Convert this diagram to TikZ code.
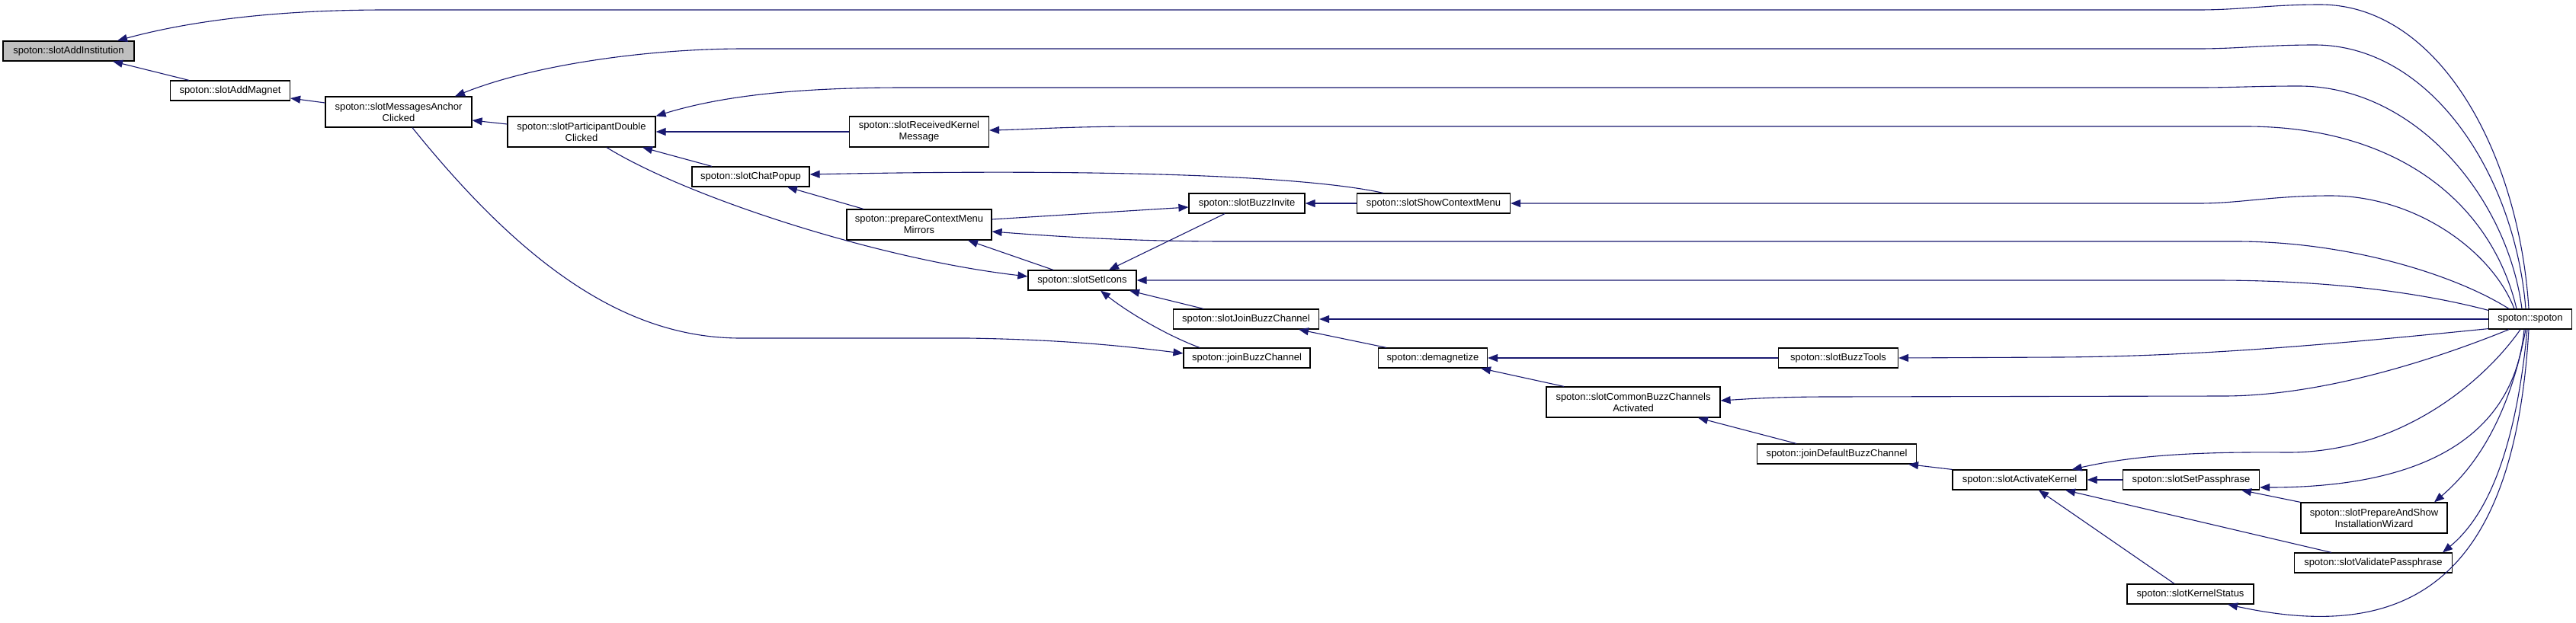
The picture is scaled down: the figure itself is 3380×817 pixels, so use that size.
\documentclass[tikz,border=0pt]{standalone}
\usepackage{fontspec}
\setmainfont{Liberation Sans}
\usetikzlibrary{arrows.meta, calc}
\definecolor{edgeblue}{HTML}{191970}
\definecolor{rootgray}{HTML}{BFBFBF}

\begin{document}
\begin{tikzpicture}[
    x=1pt, y=-1pt,
    >={Triangle[length=13pt, width=10pt]},
    line width=1.2pt,
    fn/.style={draw=black, fill=white, rectangle, minimum height=26pt, inner xsep=3pt, inner ysep=4pt, align=center, font=\fontsize{13}{15}\selectfont},
    fntwo/.style={fn, minimum height=40pt},
    fnroot/.style={fn, fill=rootgray},
    call/.style={->, draw=edgeblue, line width=1.1pt}
  ]
  \useasboundingbox[fill=white] (0,0) rectangle (3380,817);

  % --- functions, left to right ---
  \node[fnroot, minimum width=172pt] (inst) at (90,67) {spoton::slotAddInstitution};
  \node[fn, minimum width=157pt] (magnet) at (302,119) {spoton::slotAddMagnet};
  \node[fntwo, minimum width=192pt] (anchor) at (523,147) {spoton::slotMessagesAnchor\\Clicked};
  \node[fntwo, minimum width=194pt] (dbl) at (763,173) {spoton::slotParticipantDouble\\Clicked};
  \node[fntwo, minimum width=183pt] (recv) at (1206,173) {spoton::slotReceivedKernel\\Message};
  \node[fn, minimum width=154pt] (chat) at (985,232) {spoton::slotChatPopup};
  \node[fntwo, minimum width=190pt] (mirrors) at (1206,295) {spoton::prepareContextMenu\\Mirrors};
  \node[fn, minimum width=152pt] (invite) at (1636,267) {spoton::slotBuzzInvite};
  \node[fn, minimum width=201pt] (showctx) at (1881,267) {spoton::slotShowContextMenu};
  \node[fn, minimum width=142pt] (seticons) at (1420,368) {spoton::slotSetIcons};
  \node[fn, minimum width=191pt] (joinslot) at (1635,419) {spoton::slotJoinBuzzChannel};
  \node[fn, minimum width=166pt] (joinbuzz) at (1636,470) {spoton::joinBuzzChannel};
  \node[fn, minimum width=143pt] (demag) at (1880,470) {spoton::demagnetize};
  \node[fn, minimum width=157pt] (buzztools) at (2412,470) {spoton::slotBuzzTools};
  \node[fntwo, minimum width=228pt] (common) at (2143,528) {spoton::slotCommonBuzzChannels\\Activated};
  \node[fn, minimum width=209pt] (joindefault) at (2410,596) {spoton::joinDefaultBuzzChannel};
  \node[fn, minimum width=176pt] (activate) at (2650,630) {spoton::slotActivateKernel};
  \node[fn, minimum width=179pt] (setpass) at (2875,630) {spoton::slotSetPassphrase};
  \node[fntwo, minimum width=192pt] (wizard) at (3115,680) {spoton::slotPrepareAndShow\\InstallationWizard};
  \node[fn, minimum width=207pt] (validate) at (3114,739) {spoton::slotValidatePassphrase};
  \node[fn, minimum width=166pt] (kstatus) at (2874,780) {spoton::slotKernelStatus};
  \node[fn, minimum width=109pt] (spoton) at (3320,419) {spoton::spoton};

  % --- calls from spoton::spoton ---
  \draw[call] ($(spoton.north)+(-2,0)$) .. controls (3305,200) and (3200,6) .. (3044,6)
    .. controls (2980,6) and (2940,13) .. (2885,13) -- (506,13)
    .. controls (350,13) and (240,30) .. ($(inst.north)+(64,0)$);
  \draw[call] ($(spoton.north)+(-6,0)$) .. controls (3300,230) and (3190,59) .. (3037,59)
    .. controls (2975,59) and (2935,64) .. (2885,64) -- (976,64)
    .. controls (850,64) and (700,85) .. ($(anchor.north)+(74,0)$);
  \draw[call] ($(spoton.north)+(-11,0)$) .. controls (3290,260) and (3170,113) .. (3016,113)
    .. controls (2960,113) and (2930,115) .. (2885,115) -- (1187,115)
    .. controls (1050,115) and (950,125) .. (dbl.north east);
  \draw[call] ($(spoton.north)+(-18,0)$) .. controls (3270,270) and (3150,166) .. (2947,166)
    -- (1500,166) .. controls (1400,166) and (1350,170) .. ($(recv.east)+(0,-2)$);
  \draw[call] ($(spoton.north)+(-21,0)$) .. controls (3270,330) and (3170,257) .. (3058,257)
    .. controls (2980,257) and (2940,267) .. (2885,267) -- (showctx.east);
  \draw[call] ($(spoton.north)+(-28,0)$) .. controls (3220,360) and (3080,317) .. (2934,317)
    -- (1611,317) .. controls (1480,317) and (1380,310) .. ($(mirrors.east)+(0,9)$);
  \draw[call] ($(spoton.north west)+(0,2)$) .. controls (3180,385) and (3060,368) .. (2906,368)
    -- (seticons.east);
  \draw[call] (spoton.west) -- (joinslot.east);
  \draw[call] ($(spoton.south west)+(0,-1)$) .. controls (3100,448) and (2900,468) .. (2700,469)
    -- (buzztools.east);
  \draw[call] ($(spoton.south)+(-28,0)$) .. controls (3200,470) and (3050,520) .. (2917,520)
    -- (2400,521) .. controls (2330,521) and (2290,524) .. ($(common.east)+(0,-2)$);
  \draw[call] ($(spoton.south)+(-13,0)$) .. controls (3260,500) and (3150,595) .. (3000,594)
    .. controls (2880,593) and (2800,598) .. ($(activate.north east)+(-20,0)$);
  \draw[call] ($(spoton.south)+(-8,0)$) .. controls (3300,560) and (3200,640) .. ($(setpass.east)+(0,10)$);
  \draw[call] ($(spoton.south)+(-6,0)$) .. controls (3290,560) and (3240,620) .. ($(wizard.north)+(79,0)$);
  \draw[call] ($(spoton.south)+(-4,0)$) .. controls (3300,600) and (3260,680) .. ($(validate.north)+(91,0)$);
  \draw[call] ($(spoton.south)+(-2,0)$) .. controls (3300,740) and (3180,850) .. ($(kstatus.south)+(49,0)$);

  % --- other calls ---
  \draw[call] ($(magnet.north)+(-54,0)$) -- ($(inst.south)+(58,0)$);
  \draw[call] ($(anchor.west)+(0,-12)$) -- ($(magnet.east)+(0,10)$);
  \draw[call] ($(dbl.west)+(0,-10)$) -- ($(anchor.east)+(0,11)$);
  \draw[call] (recv.west) -- (dbl.east);
  \draw[call] ($(chat.north)+(-51,0)$) -- ($(dbl.south)+(80,0)$);
  \draw[call] ($(dbl.south)+(33,0)$) .. controls (900,258) and (1150,340) .. ($(seticons.west)+(0,-5)$);
  \draw[call] ($(anchor.south)+(18,0)$) .. controls (688,350) and (822,444) .. (972,444)
    -- (1270,444) .. controls (1400,446) and (1480,455) .. ($(joinbuzz.west)+(0,-6)$);
  \draw[call] ($(showctx.north)+(-66,0)$) .. controls (1700,228) and (1400,222) .. ($(chat.east)+(0,-3)$);
  \draw[call] ($(mirrors.north)+(-73,0)$) -- ($(chat.south)+(48,0)$);
  \draw[call] ($(mirrors.east)+(0,-7)$) -- ($(invite.west)+(0,5)$);
  \draw[call] (showctx.west) -- (invite.east);
  \draw[call] ($(invite.south)+(-29,0)$) -- ($(seticons.north)+(35,0)$);
  \draw[call] ($(seticons.north)+(-38,0)$) -- ($(mirrors.south)+(64,0)$);
  \draw[call] ($(joinslot.north)+(-56,0)$) -- ($(seticons.south)+(62,0)$);
  \draw[call] ($(joinbuzz.north)+(-62,0)$) .. controls (1530,440) and (1480,410) .. ($(seticons.south)+(24,0)$);
  \draw[call] ($(demag.north)+(-61,0)$) -- ($(joinslot.south)+(69,0)$);
  \draw[call] (buzztools.west) -- (demag.east);
  \draw[call] ($(common.north)+(-91,0)$) -- ($(demag.south)+(63,0)$);
  \draw[call] ($(joindefault.north)+(-53,0)$) -- ($(common.south)+(85,0)$);
  \draw[call] (activate.north west) -- ($(joindefault.south)+(94,0)$);
  \draw[call] (setpass.west) -- (activate.east);
  \draw[call] ($(kstatus.north)+(-21,0)$) -- ($(activate.south)+(25,0)$);
  \draw[call] ($(validate.north)+(-55,0)$) -- ($(activate.south)+(60,0)$);
  \draw[call] (wizard.north west) -- ($(setpass.south)+(66,0)$);
\end{tikzpicture}
\end{document}
